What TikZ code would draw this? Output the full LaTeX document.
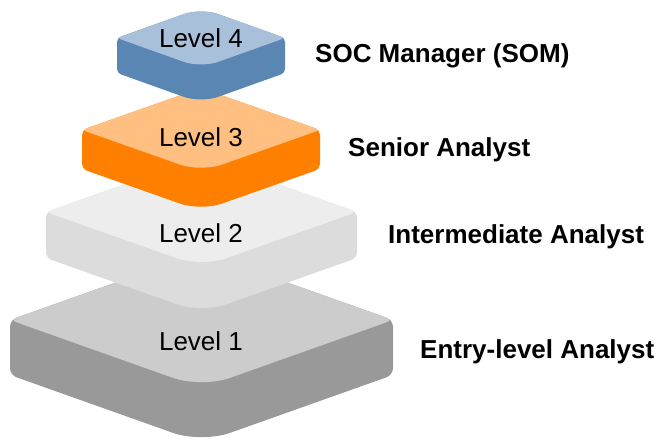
\documentclass[tikz,border=0pt]{standalone}
\usepackage{fontspec}
\setmainfont{Liberation Sans}
\usetikzlibrary{calc}
\definecolor{l4top}{HTML}{A9C0DA}
\definecolor{l4side}{HTML}{5A86B4}
\definecolor{l3top}{HTML}{FFBF80}
\definecolor{l3side}{HTML}{FF8000}
\definecolor{l2top}{HTML}{EDEDED}
\definecolor{l2side}{HTML}{DCDCDC}
\definecolor{l1top}{HTML}{CCCCCC}
\definecolor{l1side}{HTML}{999999}
\tikzset{
  lvltext/.style={anchor=base,font=\fontsize{26bp}{31bp}\selectfont,inner sep=0pt},
  roletext/.style={anchor=base west,font=\fontsize{26bp}{31bp}\selectfont\bfseries,inner sep=0pt},
}
% #1 cx, #2 y of left/right corners, #3 half width, #4 half height, #5 depth,
% #6 top colour, #7 side colour; rounding from \rt,\rtc (top/bottom), \rs,\rsc (sides)
\newcommand\drawslab[7]{%
  \coordinate (L) at ({#1-#3},{#2});
  \coordinate (T) at ({#1},{#2-#4});
  \coordinate (R) at ({#1+#3},{#2});
  \coordinate (B) at ({#1},{#2+#4});
  \coordinate (Ld) at ({#1-#3},{#2+#5});
  \coordinate (Rd) at ({#1+#3},{#2+#5});
  \coordinate (Bd) at ({#1},{#2+#4+#5});
  \fill[#7]
    ($(L)!\rs!(T)$)
    -- ($(T)!\rt!(L)$) .. controls ($(T)!\rtc!(L)$) and ($(T)!\rtc!(R)$) .. ($(T)!\rt!(R)$)
    -- ($(R)!\rs!(T)$) .. controls ($(R)!\rsc!(T)$) and ($(R)!\rsc!(Rd)$) .. ($(R)!\rs!(Rd)$)
    -- ($(Rd)!\rs!(R)$) .. controls ($(Rd)!\rsc!(R)$) and ($(Rd)!\rsc!(Bd)$) .. ($(Rd)!\rs!(Bd)$)
    -- ($(Bd)!\rt!(Rd)$) .. controls ($(Bd)!\rtc!(Rd)$) and ($(Bd)!\rtc!(Ld)$) .. ($(Bd)!\rt!(Ld)$)
    -- ($(Ld)!\rs!(Bd)$) .. controls ($(Ld)!\rsc!(Bd)$) and ($(Ld)!\rsc!(L)$) .. ($(Ld)!\rs!(L)$)
    -- ($(L)!\rs!(Ld)$) .. controls ($(L)!\rsc!(Ld)$) and ($(L)!\rsc!(T)$) .. cycle;
  \fill[#6]
    ($(L)!\rs!(T)$)
    -- ($(T)!\rt!(L)$) .. controls ($(T)!\rtc!(L)$) and ($(T)!\rtc!(R)$) .. ($(T)!\rt!(R)$)
    -- ($(R)!\rs!(T)$) .. controls ($(R)!\rsc!(T)$) and ($(R)!\rsc!(B)$) .. ($(R)!\rs!(B)$)
    -- ($(B)!\rt!(R)$) .. controls ($(B)!\rtc!(R)$) and ($(B)!\rtc!(L)$) .. ($(B)!\rt!(L)$)
    -- ($(L)!\rs!(B)$) .. controls ($(L)!\rsc!(B)$) and ($(L)!\rsc!(T)$) .. cycle;
}
\begin{document}
\begin{tikzpicture}[x=1bp,y=-1bp]
  \useasboundingbox (0,0) rectangle (659,439);
  \def\rt{30bp}\def\rtc{13.5bp}\def\rs{7bp}\def\rsc{3bp}
  \drawslab{201.5}{320}{191.5}{68}{55}{l1top}{l1side}
  \def\rt{26bp}\def\rtc{11.7bp}\def\rs{6bp}\def\rsc{2.7bp}
  \drawslab{201.5}{212}{155.5}{55}{46}{l2top}{l2side}
  \def\rt{22bp}\def\rtc{9.9bp}\def\rs{5bp}\def\rsc{2.2bp}
  \drawslab{201}{130}{119}{42}{39}{l3top}{l3side}
  \def\rt{18bp}\def\rtc{8.1bp}\def\rs{4bp}\def\rsc{1.8bp}
  \drawslab{201}{38}{84}{30}{35}{l4top}{l4side}
  \node[lvltext] (t1) at (201,350) {Level 1};
  \node[lvltext] (t2) at (201,243) {Level 2};
  \node[lvltext] (t3) at (201,147) {Level 3};
  \node[lvltext] (t4) at (201,48) {Level 4};
  \node[roletext] (r4) at (315,63) {SOC Manager (SOM)};
  \node[roletext] (r3) at (348,157) {Senior Analyst};
  \node[roletext] (r2) at (388,244) {Intermediate Analyst};
  \node[roletext] (r1) at (420,358) {Entry-level Analyst};
\end{tikzpicture}
\end{document}
